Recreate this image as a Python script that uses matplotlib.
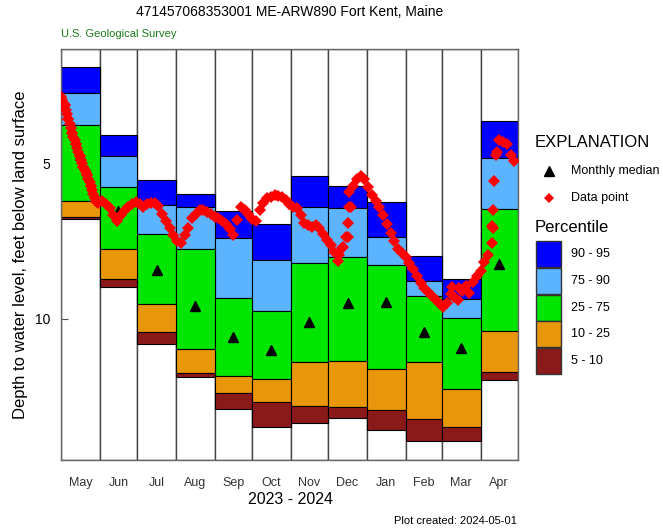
import numpy as np
import pandas as pd
import matplotlib
matplotlib.use('Agg')
import matplotlib.pyplot as plt
import matplotlib.dates as mdates
from matplotlib.patches import Rectangle

plt.rcParams['font.family'] = ['Liberation Sans', 'DejaVu Sans']

months = ['May', 'Jun', 'Jul', 'Aug', 'Sep', 'Oct', 'Nov', 'Dec', 'Jan', 'Feb', 'Mar', 'Apr']
# percentile boundaries, feet below land surface
p95 = [1.88, 4.06, 5.53, 5.96, 6.52, 6.95, 5.39, 5.70, 6.23, 7.97, 8.72, 3.60]
p90 = [2.72, 4.73, 6.32, 6.38, 7.38, 8.10, 6.40, 6.41, 7.36, 8.76, 9.35, 4.80]
p75 = [3.74, 5.75, 7.27, 7.74, 9.33, 9.74, 8.20, 7.99, 8.25, 9.26, 9.98, 6.44]
p25 = [6.18, 7.75, 9.53, 10.97, 11.84, 11.95, 11.40, 11.35, 11.61, 11.38, 12.27, 10.38]
p10 = [6.72, 8.72, 10.43, 11.75, 12.40, 12.69, 12.80, 12.83, 12.94, 13.24, 13.49, 11.70]
p05 = [6.79, 8.96, 10.80, 11.88, 12.91, 13.47, 13.36, 13.18, 13.58, 13.93, 13.93, 11.97]
median = [4.71, 6.52, 8.42, 9.57, 10.57, 11.00, 10.09, 9.49, 9.46, 10.43, 10.95, 8.24]

# data points every 3 days starting 2023-05-01
level = [2.83, 3.10, 3.55, 4.00, 4.35, 4.75, 5.10, 5.35, 5.70, 6.10,
         6.25, 6.20, 6.30, 6.43, 6.65, 6.85, 6.65, 6.50, 6.40, 6.30,
         6.22, 6.30, 6.38, 6.30, 6.25, 6.27, 6.35, 6.60, 6.85, 7.05,
         7.30, 7.50, 7.55, 7.30, 7.05, 6.75, 6.60, 6.50, 6.50, 6.55,
         6.60, 6.70, 6.75, 6.85, 6.95, 7.10, 7.28, 6.80, 6.40, 6.50,
         6.62, 6.78, 6.85, 6.50, 6.25, 6.10, 6.05, 6.00, 6.02, 6.05,
         6.15, 6.30, 6.40, 6.42, 6.65, 6.90, 6.98, 7.02, 6.98, 7.05,
         7.25, 7.45, 7.60, 7.85, 8.12, 7.70, 7.35, 6.40, 5.70, 5.50,
         5.40, 5.50, 5.75, 6.00, 6.20, 6.40, 6.65, 6.95, 7.22, 7.50,
         7.75, 7.88, 8.00, 8.20, 8.38, 8.60, 8.85, 9.00, 9.12, 9.25,
         9.38, 9.50, 9.60, 9.50, 9.20, 9.30, 9.40, 9.10, 8.95, 9.15,
         8.80, 8.60, 8.45, 8.15, 7.95, 7.00, 4.70, 4.23, 4.30, 4.35,
         4.70, 4.90]
# daily readings through the steep May recession
may_level = [2.83, 2.95, 3.02, 3.10, 3.25, 3.40, 3.55, 3.70, 3.85, 4.00,
             4.12, 4.24, 4.35, 4.48, 4.62, 4.75, 4.87, 4.98, 5.10, 5.18,
             5.27, 5.35, 5.47, 5.58, 5.70, 5.84, 5.97, 6.10, 6.18, 6.22]
extra_dates = ['2023-12-10', '2023-12-13', '2023-12-17', '2023-12-17', '2023-12-18', '2023-12-19',
               '2024-03-09', '2024-03-15', '2024-04-10', '2024-04-11', '2024-04-11', '2024-04-12',
               '2024-04-14']
extra_level = [7.95, 7.67, 7.35, 6.91, 5.89, 6.38,
               8.96, 9.00, 7.56, 7.07, 6.48, 5.55, 4.60]

month_start = pd.date_range('2023-05-01', '2024-05-01', freq='MS')
level_dates = pd.date_range('2023-05-01', periods=len(level), freq='3D')
may_dates = pd.date_range('2023-05-01', periods=len(may_level), freq='D')

c95 = '#0000FF'
c90 = '#5CB4FF'
c75 = '#00E600'
c25 = '#E8960A'
c10 = '#8A1A1A'

ytop, ybot = 1.29, 14.55

fig = plt.figure(figsize=(6.63, 5.31), dpi=100)
ax = fig.add_axes([61 / 663, 71 / 531, 457 / 663, 411 / 531])

x0 = mdates.date2num(month_start[:-1])
x1 = mdates.date2num(month_start[1:])
w = x1 - x0

# white column for every month
ax.bar(x0, ybot - ytop, width=w, bottom=ytop, align='edge', color='white',
       edgecolor='#444444', linewidth=1.0, zorder=1)
bands = [(p95, p90, c95), (p90, p75, c90), (p75, p25, c75), (p25, p10, c25), (p10, p05, c10)]
for lo, hi, col in bands:
    lo = np.array(lo)
    hi = np.array(hi)
    ax.bar(x0, hi - lo, width=w, bottom=lo, align='edge', color=col,
           edgecolor='black', linewidth=0.8, zorder=2)

xc = (x0 + x1) / 2
ax.plot(xc, median, linestyle='none', marker='^', color='black', markersize=7, zorder=3)
pts = dict(linestyle='none', marker='D', color='red', markersize=6.5, markeredgewidth=0, zorder=4)
ax.plot(mdates.date2num(level_dates), level, **pts)
ax.plot(mdates.date2num(may_dates), may_level, **pts)
ax.plot(mdates.date2num(pd.to_datetime(extra_dates)), extra_level, **pts)

ax.set_xlim(x0[0], x1[-1])
ax.set_ylim(ybot, ytop)
ax.set_yticks([5, 10])
ax.set_yticklabels(['5', '10'], fontsize=10)
ax.tick_params(axis='y', direction='in', length=5, color='#555555', pad=8)
ax.set_xticks(xc)
ax.set_xticklabels(months, fontsize=9, color='#333333')
ax.tick_params(axis='x', length=0, pad=12)
for s in ax.spines.values():
    s.set_color('#666666')
    s.set_linewidth(1.0)
ax.set_ylabel('Depth to water level, feet below land surface', fontsize=12, labelpad=5)

fig.text(290 / 663, 1 - 12 / 531, '471457068353001 ME-ARW890 Fort Kent, Maine',
         ha='center', va='center', fontsize=10)
fig.text(61 / 663, 1 - 34 / 531, 'U.S. Geological Survey', ha='left', va='center',
         fontsize=8, color='#1A7A1A')
fig.text(290 / 663, 1 - 500 / 531, '2023 - 2024', ha='center', va='center', fontsize=11.5)
fig.text(517 / 663, 1 - 521 / 531, 'Plot created: 2024-05-01', ha='right', va='center', fontsize=8)

# explanation
fig.text(535 / 663, 1 - 143 / 531, 'EXPLANATION', ha='left', va='center', fontsize=12)
fig.lines.append(plt.Line2D([549 / 663], [1 - 171 / 531], marker='^', color='black',
                            markersize=7, linestyle='none', transform=fig.transFigure))
fig.text(571 / 663, 1 - 171 / 531, 'Monthly median', ha='left', va='center', fontsize=9)
fig.lines.append(plt.Line2D([549 / 663], [1 - 198 / 531], marker='D', color='red',
                            markersize=5, markeredgewidth=0, linestyle='none',
                            transform=fig.transFigure))
fig.text(571 / 663, 1 - 198 / 531, 'Data point', ha='left', va='center', fontsize=9)
fig.text(535 / 663, 1 - 227 / 531, 'Percentile', ha='left', va='center', fontsize=12)
labels = ['90 - 95', '75 - 90', '25 - 75', '10 - 25', '5 - 10']
cols = [c95, c90, c75, c25, c10]
for i, (lab, col) in enumerate(zip(labels, cols)):
    top = 241 + i * 26.8
    fig.patches.append(Rectangle((536 / 663, 1 - (top + 26) / 531), 25 / 663, 26 / 531,
                                 facecolor=col, edgecolor='#333333', linewidth=1.0,
                                 transform=fig.transFigure))
    fig.text(571 / 663, 1 - (top + 13) / 531, lab, ha='left', va='center', fontsize=9)

fig.savefig('out.png', dpi=100)
